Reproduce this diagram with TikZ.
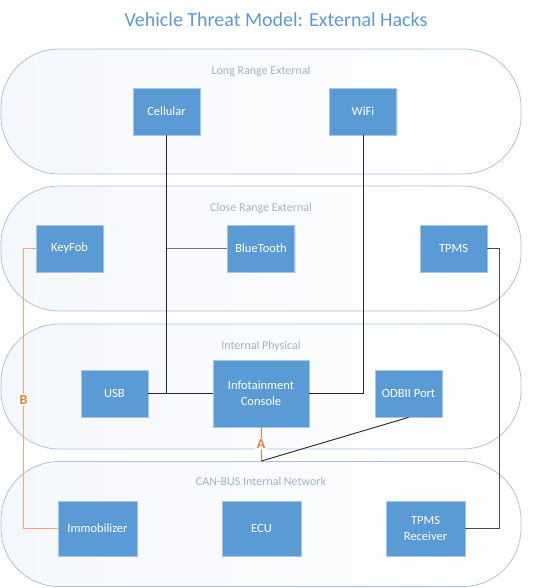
\documentclass[tikz,border=0pt]{standalone}
\usepackage{fontspec}
\setmainfont{Carlito}
\usepackage{tikz}
\usetikzlibrary{positioning,shadows}
\definecolor{boxblue}{HTML}{5B9BD5}
\definecolor{boxline}{HTML}{A9C4E4}
\definecolor{bandline}{HTML}{AFC2DA}
\definecolor{bandfill}{HTML}{F4F7FC}
\definecolor{bandtext}{HTML}{A3B3C8}
\definecolor{tagorange}{HTML}{ED7D31}
\definecolor{keyline}{HTML}{F2A679}

\begin{document}
\begin{tikzpicture}[x=1pt,y=-1pt,node distance=150pt,on grid,
    band/.style={draw=bandline,line width=0.8pt,rounded corners=58pt,left color=bandfill,right color=white,minimum width=520pt,minimum height=125pt},
    bandlabel/.style={text=bandtext,font=\fontsize{12}{14}\selectfont},
    box/.style={draw=boxline,line width=0.8pt,fill=boxblue,text=white,minimum width=67pt,minimum height=47pt,align=center,font=\fontsize{12.5}{16}\selectfont,drop shadow={shadow xshift=1pt,shadow yshift=-1.2pt,opacity=0.2}},
    big/.style={minimum width=79pt,minimum height=55pt},
    link/.style={draw=black!85,line width=0.9pt},
    tag/.style={text=tagorange,fill=white,inner sep=1.5pt,font=\bfseries\fontsize{14}{16}\selectfont}]
    \useasboundingbox (0,0) rectangle (553,588);
    \node[text=boxblue,font=\fontsize{20}{24}\selectfont] (title) at (276,20) {Vehicle Threat Model: External Hacks};
    % zones
    \node[band] (lre) at (261,111.5) {};
    \node[band] (cre) at (261,248.5) {};
    \node[band] (ip) at (261,386.5) {};
    \node[band] (can) at (261,524) {};
    \node[bandlabel,below=14pt of lre.north] {Long Range External};
    \node[bandlabel,below=14pt of cre.north] {Close Range External};
    \node[bandlabel,below=14pt of ip.north] {Internal Physical};
    \node[bandlabel,below=13pt of can.north] {CAN-BUS Internal Network};
    % entry points
    \node[box] (cellular) at (166.5,111.5) {Cellular};
    \node[box] (wifi) [right=196.5pt of cellular] {WiFi};
    \node[box] (bluetooth) at (261,248.5) {BlueTooth};
    \node[box] (keyfob) [left=191.5pt of bluetooth] {KeyFob};
    \node[box] (tpms) [right=192.5pt of bluetooth] {TPMS};
    \node[box,minimum width=96pt,minimum height=67pt] (info) at (261,393.5) {Infotainment\\Console};
    \node[box] (usb) [left=146.5pt of info] {USB};
    \node[box] (odb) [right=147.5pt of info] {ODBII Port};
    \node[box,big] (ecu) at (261.5,528.5) {ECU};
    \node[box,big] (immo) [left=164pt of ecu] {Immobilizer};
    \node[box,big] (tpmsrx) [right=164pt of ecu] {TPMS\\Receiver};
    \coordinate (btjoin) at (bluetooth.west -| cellular.south);
    \coordinate (canbus) at (info.south |- can.north);
    % connections
    \path[link] (cellular) |- (info.west)
                (wifi) |- (info.east)
                (usb) -- (info);
    \path[link,draw=black!55] (bluetooth) -- (btjoin);
    \path[link,draw=black!70] (tpms.east) -- ++(12,0) |- (tpmsrx.east);
    \path[link] (odb.south) -- (canbus);
    \path[link,draw=keyline] (keyfob.west) -- ++(-12,0) |- node[tag,pos=0.27] {B} (immo.west);
    \path[link,draw=tagorange,line width=0.6pt] (info) -- node[tag] {A} (canbus);
\end{tikzpicture}
\end{document}
